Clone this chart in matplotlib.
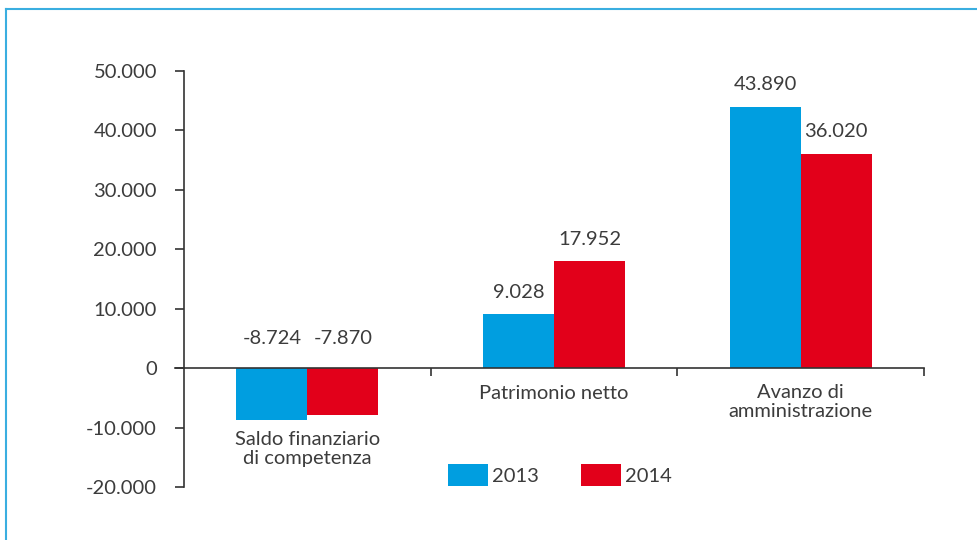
"""
Bar chart: saldo finanziario, patrimonio netto, avanzo di amministrazione (2013 vs 2014)
"""

import matplotlib.pyplot as plt
from matplotlib.lines import Line2D
from matplotlib.ticker import FixedLocator, FuncFormatter


# Data

categories = ['Saldo finanziario\ndi competenza', 'Patrimonio netto', 'Avanzo di\namministrazione']
years = ['2013', '2014']
values_2013 = [-8724, 9028, 43890]
values_2014 = [-7870, 17952, 36020]
label_y = [-10600, -2900, -2700]

blue = '#009ee0'
red = '#e2001a'
text_col = '#3c3c3c'
frame_col = '#3aaee0'


def fmt_thousands(v, pos=None):
    """Italian style thousands separator."""
    if v == 0:
        return '0'
    return '{:,.0f}'.format(v).replace(',', '.')


plt.rcParams['font.family'] = ['Lato', 'DejaVu Sans']
plt.rcParams['font.size'] = 14.5
plt.rcParams['text.color'] = text_col

fig = plt.figure(figsize=[9.78, 5.40], dpi=100)
ax = fig.add_axes([184 / 978, 53 / 540, 740 / 978, 416 / 540])

width = 0.288
x = list(range(len(categories)))
bars13 = ax.bar([i - width / 2 for i in x], values_2013, width, color=blue, label=years[0])
bars14 = ax.bar([i + width / 2 for i in x], values_2014, width, color=red, label=years[1])

for bars in (bars13, bars14):
    for b in bars:
        v = b.get_height()
        cx = b.get_x() + b.get_width() / 2
        if v >= 0:
            ax.annotate(fmt_thousands(v), (cx, v), xytext=(0, 10), textcoords='offset points',
                        ha='center', va='bottom', color=text_col)
        else:
            ax.annotate(fmt_thousands(v), (cx, 0), xytext=(0, 15), textcoords='offset points',
                        ha='center', va='bottom', color=text_col)

for i, cat in enumerate(categories):
    ax.text(i, label_y[i], cat, ha='center', va='top', color=text_col, linespacing=1.15)

ax.set_xlim(-0.5, 2.5)
ax.set_ylim(-20000, 50000)
ax.yaxis.set_major_locator(FixedLocator(range(-20000, 50001, 10000)))
ax.yaxis.set_major_formatter(FuncFormatter(fmt_thousands))
ax.xaxis.set_major_locator(FixedLocator([0.5, 1.5, 2.5]))
ax.set_xticklabels([])

ax.spines['top'].set_visible(False)
ax.spines['right'].set_visible(False)
ax.spines['bottom'].set_position(('data', 0))
for s in ('left', 'bottom'):
    ax.spines[s].set_color('#333333')
    ax.spines[s].set_linewidth(1.2)
ax.tick_params(axis='y', length=6.5, width=1.2, color='#333333', pad=13, labelcolor=text_col)
ax.tick_params(axis='x', length=6, width=1.2, color='#333333', direction='out')

# zero line extends left across the y tick
ax.axhline(0, xmin=-9 / 740, xmax=0, color='#333333', lw=1.2, clip_on=False)

leg = ax.legend(loc='center', bbox_to_anchor=(560 / 978, 1 - 475 / 540),
                bbox_transform=fig.transFigure, ncol=2, frameon=False,
                handlelength=2.0, handleheight=1.25, handletextpad=0.2, columnspacing=2.1)
for t in leg.get_texts():
    t.set_color(text_col)

# light blue frame on left and top
fig.add_artist(Line2D([6.5 / 978, 6.5 / 978], [0, 1 - 9 / 540], transform=fig.transFigure,
                      color=frame_col, lw=1.5))
fig.add_artist(Line2D([6.5 / 978, 1], [1 - 9 / 540, 1 - 9 / 540], transform=fig.transFigure,
                      color=frame_col, lw=1.5))

plt.savefig('out.png', dpi=100)
